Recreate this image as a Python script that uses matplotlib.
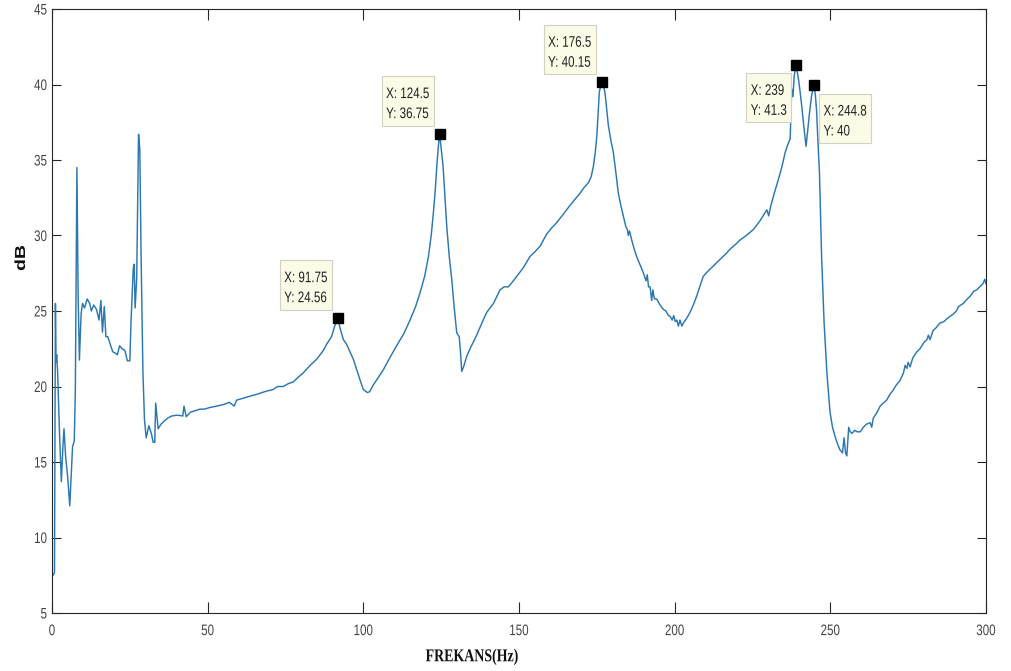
import matplotlib
matplotlib.use("Agg")
import matplotlib.pyplot as plt
from matplotlib.patches import Rectangle
from matplotlib.patheffects import AbstractPathEffect
from matplotlib.transforms import Affine2D

# Frequency response (Hz, dB)
freq = [
    0.0, 0.4, 0.8, 1.1, 1.3, 1.5, 1.8, 2.4, 3.0, 3.5, 3.85, 4.4, 5.0, 5.7, 6.6, 7.15, 7.5, 8.0,
    8.4, 8.8, 9.35, 9.8, 10.45, 11.3, 12.1, 12.65, 13.4, 14.3, 15.1, 15.7, 16.2, 16.8, 17.3,
    17.9, 18.7, 19.5, 20.4, 21.0, 21.7, 22.5, 23.4, 24.2, 25.0, 25.4, 26.1, 26.4, 26.7, 27.2,
    27.8, 28.2, 28.6, 29.2, 29.7, 30.25, 31.1, 31.9, 32.5, 33.0, 33.3, 34.1, 35.0, 36.0, 37.1,
    38.5, 40.2, 42.0, 42.4, 43.1, 44.5, 46.0, 47.5, 49.0, 50.5, 52.9, 55.0, 57.0, 58.5, 59.3,
    61.0, 63.6, 66.0, 69.0, 71.0, 72.5, 74.3, 76.0, 77.5, 79.0, 80.7, 82.9, 85.0, 87.2, 88.2,
    89.8, 90.8, 91.75, 92.6, 93.6, 94.6, 95.7, 96.8, 97.9, 99.0, 100.0, 101.3, 102.0, 103.2,
    104.8, 106.4, 108.5, 110.7, 113.0, 115.0, 116.8, 118.2, 119.7, 120.9, 121.8, 122.5, 123.1,
    123.6, 124.1, 124.5, 125.0, 125.6, 126.2, 126.8, 127.6, 128.4, 129.2, 130.0, 130.8, 131.2,
    131.6, 132.2, 133.2, 134.5, 136.4, 138.5, 139.6, 141.8, 143.9, 145.2, 146.6, 147.8, 149.3,
    151.5, 153.5, 155.0, 156.8, 158.9, 160.5, 162.1, 164.2, 166.4, 168.0, 169.6, 171.0, 172.3,
    173.2, 173.9, 174.5, 175.0, 175.4, 175.8, 176.5, 177.0, 177.6, 178.2, 178.7, 179.5, 180.3,
    181.1, 181.9, 182.7, 183.5, 184.3, 184.8, 185.1, 185.5, 186.2, 187.0, 187.8, 189.0, 190.0,
    190.8, 191.2, 191.6, 192.1, 192.6, 193.0, 193.5, 194.2, 195.3, 196.4, 197.2, 198.0, 198.5,
    199.2, 199.7, 200.2, 200.7, 201.2, 201.7, 202.3, 202.8, 203.8, 204.9, 206.0, 207.1, 208.2,
    209.2, 210.5, 212.0, 213.5, 215.0, 216.5, 217.8, 219.5, 221.0, 223.0, 225.3, 227.5, 229.6,
    230.2, 230.8, 232.0, 233.3, 234.5, 235.5, 236.3, 237.1, 237.6, 238.0, 238.4, 239.0, 239.4,
    239.8, 240.3, 240.8, 241.5, 242.2, 242.8, 243.3, 244.0, 244.75, 245.2, 245.6, 246.0, 246.5,
    247.2, 248.0, 248.9, 249.9, 250.7, 251.5, 252.3, 253.1, 253.9, 254.4, 254.9, 255.3, 255.9,
    256.4, 257.0, 257.8, 258.6, 259.6, 260.6, 261.6, 262.8, 263.3, 263.8, 264.9, 266.0, 267.0,
    268.1, 269.2, 270.0, 271.2, 272.4, 273.5, 274.0, 274.6, 275.0, 275.6, 276.5, 277.8, 278.8,
    280.0, 281.0, 281.5, 282.0, 283.0, 284.0, 285.2, 286.5, 287.5, 288.5, 289.5, 290.5, 291.2,
    292.7, 294.0, 295.0, 296.0, 297.0, 298.0, 299.0, 299.6, 300.0,
]
level_db = [
    7.6, 7.5, 7.7, 25.5, 21.6, 22.1, 21.0, 17.0, 13.7, 16.0, 17.2, 15.3, 14.1, 12.1, 16.0, 16.4,
    19.8, 34.5, 26.0, 21.75, 24.8, 25.5, 25.2, 25.8, 25.5, 25.0, 25.4, 25.1, 24.4, 25.7, 23.6,
    25.3, 23.3, 23.3, 22.8, 22.3, 22.2, 22.1, 22.7, 22.5, 22.4, 21.7, 21.7, 24.4, 27.8, 28.1,
    25.2, 27.1, 36.7, 35.7, 28.9, 21.0, 17.8, 16.6, 17.4, 16.9, 16.3, 16.3, 18.9, 17.2, 17.5,
    17.7, 17.9, 18.05, 18.1, 18.05, 18.7, 18.0, 18.3, 18.4, 18.5, 18.5, 18.6, 18.7, 18.8, 18.95,
    18.7, 19.1, 19.2, 19.35, 19.5, 19.7, 19.8, 20.0, 20.0, 20.2, 20.3, 20.6, 20.9, 21.4, 21.8,
    22.4, 22.8, 23.3, 24.0, 24.56, 23.8, 23.1, 22.8, 22.3, 21.8, 21.1, 20.4, 19.8, 19.6, 19.65,
    20.1, 20.6, 21.1, 21.9, 22.7, 23.5, 24.4, 25.3, 26.2, 27.3, 28.6, 30.0, 31.5, 33.0, 34.6,
    35.9, 36.75, 35.8, 34.6, 32.6, 30.6, 28.6, 27.1, 25.2, 23.55, 23.3, 22.3, 21.0, 21.3, 22.0,
    22.6, 23.4, 24.4, 24.9, 25.5, 26.4, 26.6, 26.6, 26.9, 27.3, 27.9, 28.6, 28.9, 29.3, 30.1,
    30.5, 30.85, 31.4, 32.0, 32.4, 32.8, 33.2, 33.5, 33.9, 34.6, 35.5, 36.6, 38.0, 39.5, 40.15,
    40.0, 39.5, 38.3, 37.3, 36.3, 35.5, 34.2, 32.8, 32.0, 31.3, 30.6, 30.4, 30.0, 30.3, 29.7,
    29.1, 28.6, 28.0, 27.5, 27.0, 27.4, 26.6, 26.6, 25.7, 26.4, 25.8, 25.8, 25.4, 25.1, 25.0,
    24.7, 24.65, 24.4, 24.7, 24.3, 24.4, 24.0, 24.4, 24.0, 24.2, 24.5, 24.9, 25.4, 26.0, 26.7,
    27.3, 27.6, 27.9, 28.2, 28.5, 28.8, 29.1, 29.4, 29.7, 30.0, 30.4, 31.0, 31.7, 31.3, 31.9,
    32.8, 33.7, 34.6, 35.5, 36.0, 36.4, 39.7, 39.2, 40.6, 41.3, 40.8, 40.3, 39.5, 38.6, 37.2,
    35.9, 37.1, 38.1, 39.3, 40.0, 39.3, 38.2, 36.3, 34.2, 28.6, 24.2, 20.9, 18.3, 17.3, 16.7,
    16.2, 15.8, 15.6, 16.6, 15.6, 15.4, 17.3, 17.0, 16.9, 17.1, 17.0, 17.0, 17.3, 17.5, 17.6,
    17.3, 17.9, 18.25, 18.7, 18.9, 19.1, 19.5, 19.7, 20.1, 20.4, 20.9, 21.4, 21.2, 21.6, 21.3,
    21.9, 22.3, 22.5, 22.9, 23.1, 23.4, 23.1, 23.7, 23.9, 24.2, 24.3, 24.5, 24.65, 24.8, 25.0,
    25.3, 25.5, 25.8, 26.0, 26.3, 26.4, 26.6, 26.8, 27.1, 26.8,
]

# Data tips
tip_x = [91.75, 124.5, 176.5, 239.0, 244.75]
tip_y = [24.56, 36.75, 40.15, 41.3, 40.0]
tip_xlabel = ["X: 91.75", "X: 124.5", "X: 176.5", "X: 239", "X: 244.8"]
tip_ylabel = ["Y: 24.56", "Y: 36.75", "Y: 40.15", "Y: 41.3", "Y: 40"]
tip_side = ["upleft", "upleft", "upleft", "downleft", "downright"]

xticks = [0, 50, 100, 150, 200, 250, 300]
yticks = [5, 10, 15, 20, 25, 30, 35, 40, 45]

SANS = ["Liberation Sans", "DejaVu Sans"]
SERIF = ["Liberation Serif", "DejaVu Serif"]
SQ = 0.76  # horizontal squeeze of glyphs (narrow face)


class Squeeze(AbstractPathEffect):
    """Draw glyph outlines compressed along one local axis about an anchor."""

    def __init__(self, sx=1.0, sy=1.0, anchor=0.0):
        super().__init__()
        self.sx, self.sy, self.anchor = sx, sy, anchor

    def draw_path(self, renderer, gc, tpath, affine, rgbFace=None):
        v = tpath.vertices
        if len(v):
            x0, x1 = v[:, 0].min(), v[:, 0].max()
        else:
            x0 = x1 = 0.0
        px = x0 + self.anchor * (x1 - x0)
        t = Affine2D().translate(-px, 0).scale(self.sx, self.sy).translate(px, 0) + affine
        renderer.draw_path(gc, tpath, t, rgbFace)


W, H, DPI = 1011, 671, 100
fig = plt.figure(figsize=(W / DPI, H / DPI), dpi=DPI)
ax = fig.add_axes([52 / W, 1 - 613 / H, 934 / W, 604 / H])

ink = "#262626"
ax.plot(freq, level_db, color="#2b78b0", lw=1.05, zorder=2)

ax.set_xlim(0, 300)
ax.set_ylim(5, 45)
ax.set_xticks(xticks)
ax.set_yticks(yticks)
ax.tick_params(direction="in", width=0.8, colors=ink, top=True, right=True,
               labelsize=11, labelcolor="#444444")
ax.tick_params(axis="x", length=8, pad=8)
ax.tick_params(axis="y", length=6.5, pad=3.5)
for tk in ax.xaxis.get_major_ticks():
    tk.label1.set_family(SANS)
    tk.label1.set_path_effects([Squeeze(sx=SQ, anchor=0.5)])
for tk in ax.yaxis.get_major_ticks():
    tk.label1.set_family(SANS)
    tk.label1.set_path_effects([Squeeze(sx=SQ, anchor=1.0)])
for sp in ax.spines.values():
    sp.set_color(ink)
    sp.set_linewidth(0.8)

ax.set_xlabel("FREKANS(Hz)", family=SERIF, fontweight="bold", fontsize=13,
              color="#111111", va="top", path_effects=[Squeeze(sx=0.77, anchor=0.5)])
ax.xaxis.set_label_coords((472 - 52) / 934, -(648 - 613) / 604)
ax.set_ylabel("dB", family=SANS, fontweight="bold", fontsize=14, color="#111111",
              path_effects=[Squeeze(sy=0.75)])
ax.yaxis.set_label_coords(-(52 - 29) / 934, (613 - 258) / 604)

for x, y in zip(tip_x, tip_y):
    ax.plot([x], [y], marker="s", ms=7.5, color="black", zorder=5, clip_on=False)

# Data-tip boxes laid out in pixel space around each marker
fig.canvas.draw()
renderer = fig.canvas.get_renderer()
cap_gap, line_gap, pad_bot, pad_side = 22, 20, 7.5, 4.5
box_h = cap_gap + line_gap + pad_bot
for x, y, lx, ly, side in zip(tip_x, tip_y, tip_xlabel, tip_ylabel, tip_side):
    mx, my = ax.transData.transform((x, y))
    texts = [fig.text(0, 0, s, family=SANS, fontsize=11, color="#222222", ha="left",
                      va="baseline", zorder=7, path_effects=[Squeeze(sx=SQ, anchor=0.0)])
             for s in (lx, ly)]
    tw = max(t.get_window_extent(renderer).width for t in texts) * SQ
    box_w = tw + 2 * pad_side
    if side == "upleft":
        right, bottom = mx - 6, my + 8
        left, top = right - box_w, bottom + box_h
    elif side == "downleft":
        right, top = mx - 5, my - 8
        left, bottom = right - box_w, top - box_h
    else:
        left, top = mx + 5, my - 9
        bottom = top - box_h
    fig.add_artist(Rectangle((left / W, bottom / H), box_w / W, box_h / H,
                             transform=fig.transFigure, fc="#fbfbe8", ec="#d2d2c2",
                             lw=0.8, zorder=6))
    texts[0].set_position(((left + pad_side) / W, (top - cap_gap) / H))
    texts[1].set_position(((left + pad_side) / W, (top - cap_gap - line_gap) / H))

fig.savefig("out.png", dpi=DPI, facecolor="white")
